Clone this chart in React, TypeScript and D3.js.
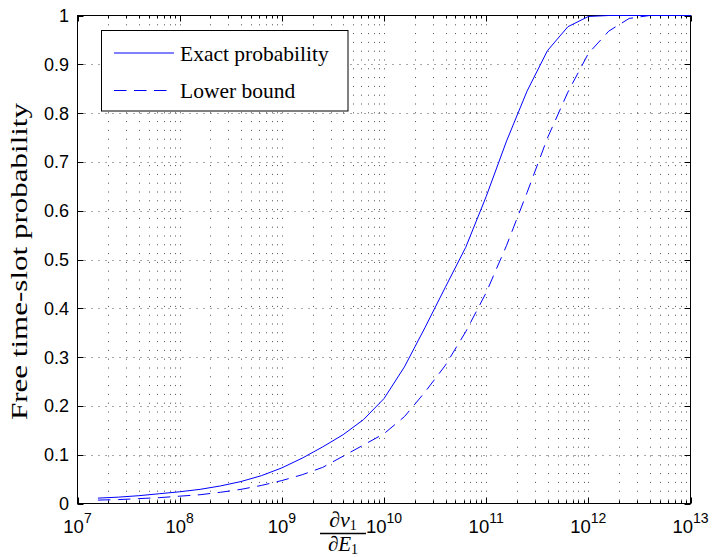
import React, { useEffect, useRef } from "react";
import * as d3 from "d3";

// x values are given as base-10 exponents (x = 10^e)
const exponents = [
  7.2, 7.4, 7.6, 7.8, 8.0, 8.2, 8.4, 8.6, 8.8, 9.0, 9.2, 9.4, 9.6, 9.8, 10.0,
  10.2, 10.4, 10.6, 10.8, 11.0, 11.2, 11.4, 11.6, 11.8, 12.0, 12.2, 12.4, 12.6,
  12.8, 13.0,
];
const exactProbability = [
  0.011, 0.013, 0.016, 0.02, 0.024, 0.029, 0.036, 0.045, 0.057, 0.073, 0.093,
  0.116, 0.141, 0.172, 0.215, 0.28, 0.36, 0.443, 0.525, 0.629, 0.743, 0.845,
  0.928, 0.977, 0.998, 1.0, 1.0, 1.0, 1.0, 1.0,
];
const lowerBound = [
  0.007, 0.008, 0.01, 0.012, 0.015, 0.018, 0.023, 0.029, 0.037, 0.047, 0.059,
  0.074, 0.097, 0.12, 0.143, 0.178, 0.228, 0.283, 0.352, 0.432, 0.529, 0.637,
  0.749, 0.843, 0.922, 0.968, 0.994, 1.0, 1.0, 1.0,
];
const decades = [7, 8, 9, 10, 11, 12, 13];
const yTicks = [0, 0.1, 0.2, 0.3, 0.4, 0.5, 0.6, 0.7, 0.8, 0.9, 1];
const yTickLabels = ["0", "0.1", "0.2", "0.3", "0.4", "0.5", "0.6", "0.7", "0.8", "0.9", "1"];
const seriesNames = ["Exact probability", "Lower bound"];

const App = () => {
  const ref = useRef<SVGSVGElement>(null);

  useEffect(() => {
    const svg = d3.select(ref.current);
    svg.selectAll("*").remove();

    const left = 77.5,
      right = 690.5,
      top = 15.5,
      bottom = 503.5;

    const x = d3.scaleLog().domain([1e7, 1e13]).range([left, right]);
    const y = d3.scaleLinear().domain([0, 1]).range([bottom, top]);

    // all grid positions on the log axis (1..9 x each decade)
    const gridX: number[] = [];
    decades.slice(0, -1).forEach((d) => {
      for (let k = 1; k <= 9; k++) gridX.push(k * Math.pow(10, d));
    });
    gridX.push(1e13);
    const minorX = gridX.filter((v) => !decades.some((d) => Math.abs(v - Math.pow(10, d)) < 1));

    const grid = svg.append("g").attr("stroke", "#222").attr("stroke-width", 0.8);
    grid.selectAll(".gx").data(gridX.slice(1, -1)).enter().append("line")
      .attr("stroke-dasharray", "1,7.8")
      .attr("x1", (d) => Math.round(x(d)) + 0.5).attr("x2", (d) => Math.round(x(d)) + 0.5)
      .attr("y1", top).attr("y2", bottom);
    grid.selectAll(".gy").data(yTicks.slice(1, -1)).enter().append("line")
      .attr("stroke-dasharray", "1,6")
      .attr("x1", left).attr("x2", right)
      .attr("y1", (d) => Math.round(y(d)) + 0.5).attr("y2", (d) => Math.round(y(d)) + 0.5);

    // ticks (inside, on all four sides)
    const ticks = svg.append("g").attr("stroke", "#000").attr("stroke-width", 1);
    const majorX = decades.map((d) => Math.pow(10, d));
    [bottom, top].forEach((edge) => {
      const dir = edge === bottom ? -1 : 1;
      ticks.selectAll(null).data(majorX).enter().append("line")
        .attr("x1", (d) => Math.round(x(d)) + 0.5).attr("x2", (d) => Math.round(x(d)) + 0.5)
        .attr("y1", edge).attr("y2", edge + dir * 6);
      ticks.selectAll(null).data(minorX).enter().append("line")
        .attr("x1", (d) => Math.round(x(d)) + 0.5).attr("x2", (d) => Math.round(x(d)) + 0.5)
        .attr("y1", edge).attr("y2", edge + dir * 3);
    });
    [left, right].forEach((edge) => {
      const dir = edge === left ? 1 : -1;
      ticks.selectAll(null).data(yTicks).enter().append("line")
        .attr("x1", edge).attr("x2", edge + dir * 6)
        .attr("y1", (d) => Math.round(y(d)) + 0.5).attr("y2", (d) => Math.round(y(d)) + 0.5);
    });

    // axis box
    svg.append("rect").attr("x", left).attr("y", top)
      .attr("width", right - left).attr("height", bottom - top)
      .attr("fill", "none").attr("stroke", "#000").attr("stroke-width", 1);

    // y tick labels
    svg.append("g").selectAll("text").data(yTicks).enter().append("text")
      .attr("x", left - 8.5).attr("y", (d) => y(d) + 6.5)
      .attr("text-anchor", "end")
      .style("font-family", "'Liberation Sans', Arial, sans-serif")
      .style("font-size", "18px")
      .text((d, i) => yTickLabels[i]);

    // x tick labels 10^n
    const xl = svg.append("g").selectAll("text").data(decades).enter().append("text")
      .attr("x", (d) => x(Math.pow(10, d)))
      .attr("y", 533)
      .attr("text-anchor", "middle")
      .style("font-family", "'Liberation Sans', Arial, sans-serif")
      .style("font-size", "18.5px");
    xl.append("tspan").text("10");
    xl.append("tspan").attr("dy", -10.5).style("font-size", "14px").text((d) => String(d));

    // curves
    const line = d3.line<number>()
      .x((d, i) => x(Math.pow(10, exponents[i])))
      .y((d) => y(d));
    svg.append("path").datum(exactProbability).attr("d", line)
      .attr("fill", "none").attr("stroke", "#0000ff").attr("stroke-width", 1);
    svg.append("path").datum(lowerBound).attr("d", line)
      .attr("fill", "none").attr("stroke", "#0000ff").attr("stroke-width", 1)
      .attr("stroke-dasharray", "12.5,7.5");

    // legend
    const lg = svg.append("g");
    lg.append("rect").attr("x", 101.5).attr("y", 30.5).attr("width", 246.5).attr("height", 80.5)
      .attr("fill", "#fff").attr("stroke", "#000").attr("stroke-width", 1);
    seriesNames.forEach((name, i) => {
      const ly = i === 0 ? 53 : 90.5;
      lg.append("line").attr("x1", 114).attr("x2", 174).attr("y1", ly).attr("y2", ly)
        .attr("stroke", "#0000ff").attr("stroke-width", 1)
        .attr("stroke-dasharray", i === 0 ? null : "12.5,7.5");
      lg.append("text").attr("x", 180).attr("y", ly + 7.5)
        .style("font-family", "'Liberation Serif', 'Times New Roman', serif")
        .style("font-size", "21.5px")
        .text(name);
    });

    // y axis label
    svg.append("text")
      .attr("transform", "translate(27,261.5) rotate(-90)")
      .attr("text-anchor", "middle")
      .attr("textLength", 317)
      .attr("lengthAdjust", "spacingAndGlyphs")
      .style("font-family", "'Liberation Serif', 'Times New Roman', serif")
      .style("font-size", "24px")
      .text("Free time-slot probability");

    // x axis label: fraction dv1/dE1
    const fx = 343;
    const serif = "'Liberation Serif', 'Times New Roman', serif";
    const num = svg.append("text").attr("x", fx).attr("y", 527).attr("text-anchor", "middle")
      .style("font-family", serif).style("font-size", "22px");
    num.append("tspan").style("font-style", "italic").text("\u2202v");
    num.append("tspan").attr("dy", 2.5).style("font-size", "14px").text("1");
    svg.append("line").attr("x1", 320).attr("x2", 366).attr("y1", 533.5).attr("y2", 533.5)
      .attr("stroke", "#000").attr("stroke-width", 1.6);
    const den = svg.append("text").attr("x", fx).attr("y", 551).attr("text-anchor", "middle")
      .style("font-family", serif).style("font-size", "21px");
    den.append("tspan").style("font-style", "italic").text("\u2202E");
    den.append("tspan").attr("dy", 2.5).style("font-size", "14px").text("1");
  }, []);

  return (
    <svg
      ref={ref}
      width={712}
      height={557}
      style={{ position: "absolute", left: 0, top: 0, background: "#fff" }}
    />
  );
};

export default App;
